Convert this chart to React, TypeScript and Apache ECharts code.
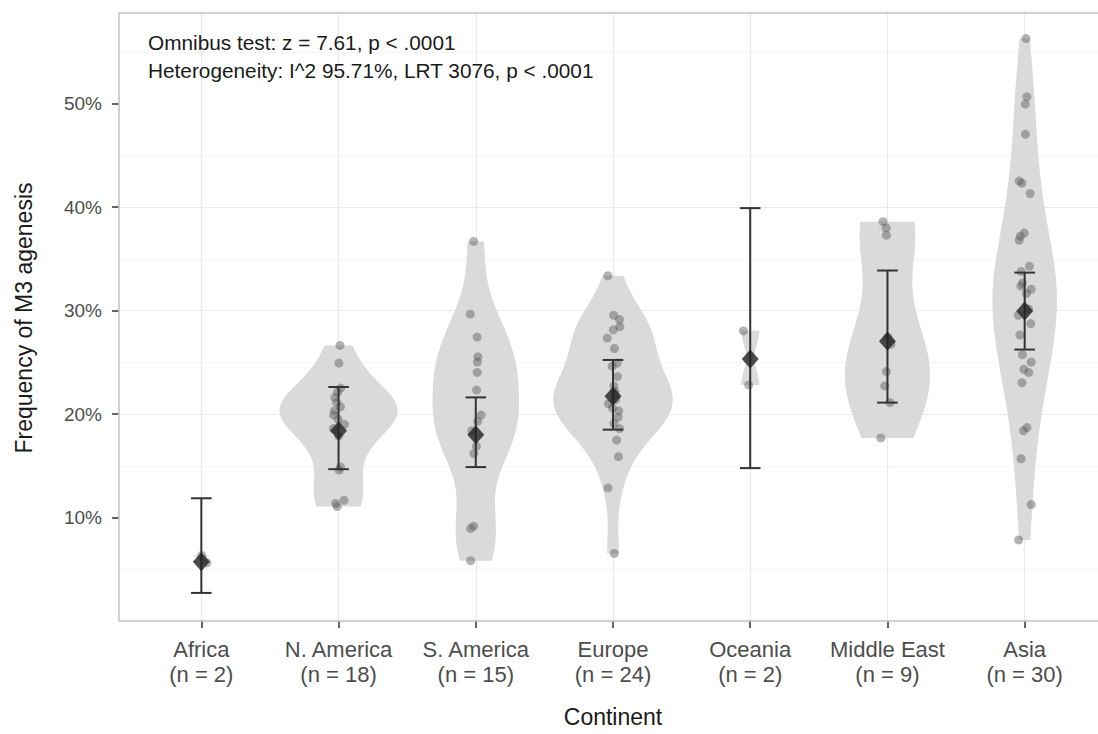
import React, { useEffect, useRef } from "react";
import * as echarts from "echarts";

// ---------------- data ----------------
const continents = ["Africa", "N. America", "S. America", "Europe", "Oceania", "Middle East", "Asia"];
const studyCounts = [2, 18, 15, 24, 2, 9, 30];

const africa = [6.3, 5.6];
const northAmerica = [26.5, 24.8, 22.4, 22.0, 21.5, 21.0, 20.6, 20.2, 19.8, 19.4, 18.9, 18.5, 17.8, 14.8, 14.5, 11.6, 11.3, 11.0];
const southAmerica = [36.5, 29.5, 27.3, 25.4, 24.9, 23.9, 22.2, 19.8, 19.2, 18.3, 16.8, 16.1, 9.1, 8.9, 5.8];
const europe = [33.2, 29.4, 29.0, 28.3, 28.0, 27.2, 26.2, 24.8, 24.5, 23.5, 22.6, 22.1, 21.8, 21.3, 20.9, 20.5, 20.2, 19.6, 19.0, 18.5, 17.4, 15.8, 12.8, 6.5];
const oceania = [27.9, 22.7];
const middleEast = [38.4, 37.8, 37.1, 27.3, 26.6, 24.0, 22.6, 21.0, 17.6];
const asia = [56.0, 50.4, 49.7, 46.8, 42.3, 42.1, 41.1, 37.3, 37.0, 36.6, 34.1, 33.6, 32.5, 32.2, 31.9, 31.5, 30.0, 29.4, 28.6, 27.5, 25.6, 24.9, 24.2, 23.9, 22.9, 18.6, 18.3, 15.6, 11.2, 7.8];

const studyValues = [africa, northAmerica, southAmerica, europe, oceania, middleEast, asia];

const pooledEstimate = [5.7, 18.3, 17.9, 21.6, 25.2, 26.9, 29.8];
const ciLower = [2.7, 14.6, 14.8, 18.4, 14.7, 21.0, 26.1];
const ciUpper = [11.8, 22.5, 21.5, 25.1, 39.7, 33.7, 33.5];

const yTicks = [10, 20, 30, 40, 50];
const annotationLines = [
  "Omnibus test: z = 7.61, p < .0001",
  "Heterogeneity: I^2 95.71%, LRT 3076, p < .0001",
];

// ---------------- styling / layout config ----------------
const FONT = "'Liberation Sans', Arial, Helvetica, sans-serif";
const VIOLIN_WIDTH = [0.12, 0.86, 0.63, 0.87, 0.13, 0.62, 0.47]; // fraction of category spacing at peak
const JITTER = 0.05;
const PANEL = { left: 119, top: 13, right: 1107, bottom: 621 };
const PX_PER_PCT = 10.4;
const EXPAND = 0.6;

// ---------------- helpers ----------------
function quantile(sorted: number[], p: number) {
  const h = (sorted.length - 1) * p;
  const lo = Math.floor(h);
  const hi = Math.ceil(h);
  return sorted[lo] + (h - lo) * (sorted[hi] - sorted[lo]);
}
function bwNrd0(x: number[]) {
  const n = x.length;
  const s = [...x].sort((a, b) => a - b);
  const mean = x.reduce((a, b) => a + b, 0) / n;
  const sd = Math.sqrt(x.reduce((a, b) => a + (b - mean) * (b - mean), 0) / (n - 1));
  const iqr = quantile(s, 0.75) - quantile(s, 0.25);
  let lo = Math.min(sd, iqr / 1.34);
  if (!(lo > 0)) lo = sd || Math.abs(s[0]) || 1;
  return 0.9 * lo * Math.pow(n, -0.2);
}
function violinProfile(x: number[], steps = 160): [number, number][] {
  const bw = bwNrd0(x);
  const mn = Math.min(...x);
  const mx = Math.max(...x);
  const out: [number, number][] = [];
  let peak = 0;
  for (let k = 0; k <= steps; k++) {
    const y = mn + ((mx - mn) * k) / steps;
    let d = 0;
    for (const v of x) {
      const z = (y - v) / bw;
      d += Math.exp(-0.5 * z * z);
    }
    d /= x.length * bw * Math.sqrt(2 * Math.PI);
    peak = Math.max(peak, d);
    out.push([y, d]);
  }
  return out.map(([y, d]) => [y, d / peak]);
}
function seededJitter(seed: number) {
  let s = seed >>> 0;
  return () => {
    s = (Math.imul(s, 1664525) + 1013904223) >>> 0;
    return (s / 4294967296 - 0.5) * 2;
  };
}

export default function App() {
  const ref = useRef<HTMLDivElement>(null);

  useEffect(() => {
    if (!ref.current) return;
    const chart = echarts.init(ref.current, null, { renderer: "svg" });

    const profiles = studyValues.map((v) => violinProfile(v));
    const rnd = seededJitter(20240611);
    const points: number[][] = [];
    studyValues.forEach((vals, i) => {
      vals.forEach((v) => points.push([i + rnd() * JITTER, v]));
    });

    const panelW = PANEL.right - PANEL.left;
    const unit = panelW / (continents.length - 1 + 2 * EXPAND);
    const dataLeft = PANEL.left + EXPAND * unit;
    const dataWidth = unit * (continents.length - 1);
    const fullTopPct = 60;
    const grid0Top = PANEL.bottom - fullTopPct * PX_PER_PCT;
    const grid1Max = (PANEL.bottom - PANEL.top) / PX_PER_PCT;

    const option: any = {
      animation: false,
      backgroundColor: "#ffffff",
      textStyle: { fontFamily: FONT },
      grid: [
        { left: PANEL.left, top: grid0Top, width: panelW, height: PANEL.bottom - grid0Top, show: false },
        { left: dataLeft, top: PANEL.top, width: dataWidth, height: PANEL.bottom - PANEL.top, show: false },
      ],
      xAxis: [
        { gridIndex: 0, type: "value", min: 0, max: 1, show: false },
        {
          gridIndex: 1,
          type: "value",
          min: 0,
          max: continents.length - 1,
          interval: 1,
          name: "Continent",
          nameLocation: "middle",
          nameGap: 84,
          nameMoveOverlap: false,
          nameTextStyle: { fontSize: 23, color: "#1a1a1a", fontFamily: FONT },
          axisLine: { show: false },
          axisTick: { show: true, length: 7, lineStyle: { color: "#333333", width: 1.5 } },
          axisLabel: {
            margin: 16,
            fontSize: 22,
            lineHeight: 25,
            color: "#4d4d4d",
            fontFamily: FONT,
            formatter: (v: number) => `${continents[v]}\n(n = ${studyCounts[v]})`,
          },
          splitLine: { show: true, lineStyle: { color: "#ebebeb", width: 1.2 } },
        },
      ],
      yAxis: [
        {
          gridIndex: 0,
          type: "value",
          min: 0,
          max: fullTopPct,
          interval: 10,
          name: "Frequency of M3 agenesis",
          nameLocation: "middle",
          nameRotate: 90,
          nameGap: 84,
          nameMoveOverlap: false,
          nameTextStyle: { fontSize: 23, color: "#1a1a1a", fontFamily: FONT, padding: [0, 15, 0, 0] },
          axisLine: { show: false },
          axisTick: { show: true, length: 7, customValues: yTicks, lineStyle: { color: "#333333", width: 1.5 } },
          axisLabel: {
            customValues: yTicks,
            margin: 17,
            fontSize: 19,
            color: "#4d4d4d",
            fontFamily: FONT,
            formatter: (v: number) => `${v}%`,
          },
          splitLine: { show: true, showMinLine: false, showMaxLine: false, lineStyle: { color: "#ebebeb", width: 1.2 } },
          minorTick: { show: false, splitNumber: 2 },
          minorSplitLine: { show: true, lineStyle: { color: "#f5f5f5", width: 1 } },
        },
        { gridIndex: 1, type: "value", min: 0, max: grid1Max, show: false },
      ],
      graphic: [
        {
          type: "rect",
          silent: true,
          z: 100,
          shape: { x: PANEL.left, y: PANEL.top, width: panelW, height: PANEL.bottom - PANEL.top },
          style: { fill: "none", stroke: "#c2c2c2", lineWidth: 1.5 },
        },
        ...annotationLines.map((t, k) => ({
          type: "text",
          silent: true,
          z: 101,
          x: 148,
          y: 42 + k * 28,
          style: { text: t, fontSize: 20.8, fontFamily: FONT, fill: "#1a1a1a", verticalAlign: "middle", align: "left" },
        })),
      ],
      series: [
        {
          type: "custom",
          name: "violin",
          xAxisIndex: 1,
          yAxisIndex: 1,
          z: 1,
          silent: true,
          clip: false,
          data: continents.map((_, i) => [i, pooledEstimate[i]]),
          renderItem: (params: any, api: any) => {
            const i = params.dataIndex;
            const prof = profiles[i];
            const half = VIOLIN_WIDTH[i] / 2;
            const right = prof.map(([y, d]) => api.coord([i + d * half, y]));
            const left = prof.slice().reverse().map(([y, d]) => api.coord([i - d * half, y]));
            return {
              type: "polygon",
              shape: { points: right.concat(left) },
              style: { fill: "#dadada", stroke: "none" },
            };
          },
        },
        {
          type: "scatter",
          name: "studies",
          xAxisIndex: 1,
          yAxisIndex: 1,
          z: 2,
          clip: false,
          silent: true,
          symbol: "circle",
          symbolSize: 9,
          itemStyle: { color: "rgba(90,90,90,0.58)" },
          data: points,
        },
        {
          type: "custom",
          name: "ci",
          xAxisIndex: 1,
          yAxisIndex: 1,
          z: 3,
          silent: true,
          clip: false,
          data: continents.map((_, i) => [i, ciLower[i], ciUpper[i]]),
          renderItem: (params: any, api: any) => {
            const i = api.value(0);
            const lo = api.value(1);
            const hi = api.value(2);
            const cap = 0.075;
            const top = api.coord([i, hi]);
            const bot = api.coord([i, lo]);
            const tl = api.coord([i - cap, hi]);
            const tr = api.coord([i + cap, hi]);
            const bl = api.coord([i - cap, lo]);
            const br = api.coord([i + cap, lo]);
            const st = { stroke: "#333333", lineWidth: 2 };
            return {
              type: "group",
              children: [
                { type: "line", shape: { x1: top[0], y1: top[1], x2: bot[0], y2: bot[1] }, style: st },
                { type: "line", shape: { x1: tl[0], y1: tl[1], x2: tr[0], y2: tr[1] }, style: st },
                { type: "line", shape: { x1: bl[0], y1: bl[1], x2: br[0], y2: br[1] }, style: st },
              ],
            };
          },
        },
        {
          type: "scatter",
          name: "pooled",
          xAxisIndex: 1,
          yAxisIndex: 1,
          z: 4,
          clip: false,
          silent: true,
          symbol: "diamond",
          symbolSize: [17, 19],
          itemStyle: { color: "#222222" },
          data: continents.map((_, i) => [i, pooledEstimate[i]]),
        },
      ],
    };

    chart.setOption(option);
    return () => chart.dispose();
  }, []);

  return (
    <div
      ref={ref}
      style={{ position: "absolute", left: 0, top: 0, width: 1098, height: 734, background: "#fff" }}
    />
  );
}
